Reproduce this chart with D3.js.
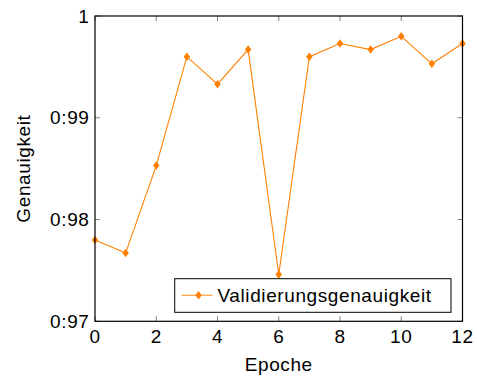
<!DOCTYPE html>
<html><head><meta charset="utf-8">
<script src="https://cdn.jsdelivr.net/npm/d3@7"></script>
<style>body{margin:0;background:#fff}svg{display:block}text{font-family:"Liberation Sans",Arial,sans-serif;letter-spacing:0.6px}</style>
</head><body><svg id="c" width="477" height="378"></svg>
<script>
const epochs = [0,1,2,3,4,5,6,7,8,9,10,11,12];
const accuracy = [0.978,0.9767,0.9853,0.996,0.9933,0.9967,0.9746,0.996,0.9973,0.9967,0.998,0.9953,0.9973];
const xTicks = [0,2,4,6,8,10,12];
const yTicks = [0.97,0.98,0.99,1.0];
const yTickLabels = ["0:97","0:98","0:99","1"];
const seriesName = "Validierungsgenauigkeit";

const svg = d3.select("#c");
const L=95, R=462.5, T=16, B=321.3;
const x = d3.scaleLinear().domain([0,12]).range([L,R]);
const y = d3.scaleLinear().domain([0.97,1.0]).range([B,T]);
const orange = "#ff8000";
const tickCol = "#808080";
const fs = 19;

function diamondPath(w,h){
  const p = d3.path();
  p.moveTo(0,-h/2); p.lineTo(w/2,0); p.lineTo(0,h/2); p.lineTo(-w/2,0); p.closePath();
  return p.toString();
}
const diamond = diamondPath(6.5,8.5);

// inner ticks
const g = svg.append("g");
xTicks.forEach(v=>{
  g.append("line").attr("x1",x(v)).attr("x2",x(v)).attr("y1",B).attr("y2",B-5).attr("stroke",tickCol);
  g.append("line").attr("x1",x(v)).attr("x2",x(v)).attr("y1",T).attr("y2",T+5).attr("stroke",tickCol);
});
yTicks.forEach(v=>{
  g.append("line").attr("x1",L).attr("x2",L+5).attr("y1",y(v)).attr("y2",y(v)).attr("stroke",tickCol);
  g.append("line").attr("x1",R).attr("x2",R-5).attr("y1",y(v)).attr("y2",y(v)).attr("stroke",tickCol);
});

// tick labels
xTicks.forEach(v=>{
  svg.append("text").attr("x",x(v)).attr("y",B+21.4).attr("text-anchor","middle").attr("font-size",fs).text(v);
});
yTicks.forEach((v,i)=>{
  svg.append("text").attr("x",L-5.5).attr("y",y(v)+6.5).attr("text-anchor","end").attr("font-size",fs).text(yTickLabels[i]);
});

// line
const line = d3.line().x((d,i)=>x(epochs[i])).y(d=>y(d));
svg.append("path").datum(accuracy).attr("d",line).attr("fill","none").attr("stroke",orange).attr("stroke-width",1.1);
svg.selectAll(".m").data(accuracy).enter().append("path")
  .attr("transform",(d,i)=>`translate(${x(epochs[i])},${y(d)})`)
  .attr("d",diamond).attr("fill",orange);

// frame
svg.append("rect").attr("x",L).attr("y",T).attr("width",R-L).attr("height",B-T)
  .attr("fill","none").attr("stroke","#000").attr("stroke-width",1.2);

// legend
const lg = svg.append("g");
lg.append("rect").attr("x",174.7).attr("y",278.7).attr("width",276.3).attr("height",33.6)
  .attr("fill","#fff").attr("stroke","#000").attr("stroke-width",1);
lg.append("line").attr("x1",181.5).attr("x2",212.5).attr("y1",295.3).attr("y2",295.3).attr("stroke","#ffaa55").attr("stroke-width",1.4);
lg.append("path").attr("transform","translate(198.5,295.3)").attr("d",diamond).attr("fill",orange);
lg.append("text").attr("x",217.5).attr("y",301.5).attr("font-size",fs).text(seriesName);

// axis titles
svg.append("text").attr("x",(L+R)/2).attr("y",371.3).attr("text-anchor","middle").attr("font-size",fs).text("Epoche");
svg.append("text").attr("transform",`translate(30,${(T+B)/2}) rotate(-90)`).attr("text-anchor","middle").attr("font-size",fs).text("Genauigkeit");
</script></body></html>
